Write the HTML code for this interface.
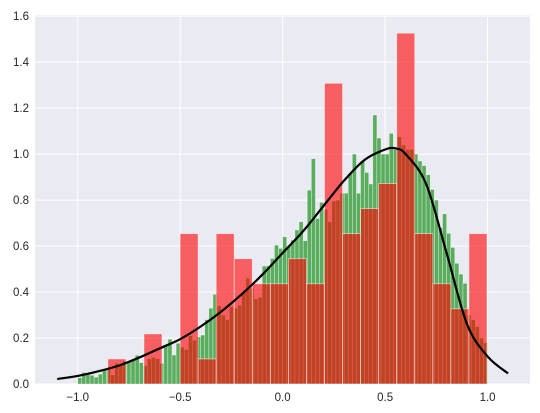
<!DOCTYPE html>
<html><head><meta charset="utf-8"><style>
html,body{margin:0;padding:0;background:#fff;}
svg{display:block;font-family:"Liberation Sans",Arial,sans-serif;}
</style></head><body>
<svg id="chart" width="540" height="413" viewBox="0 0 540 413">
<rect x="35" y="15" width="495" height="369" fill="#eaeaf2"/>
<g id="grid"></g><g id="green"></g><g id="red"></g><g id="curve"></g><g id="ticks"></g>
</svg>
<script>
const yTicks=[0,0.2,0.4,0.6,0.8,1.0,1.2,1.4,1.6];
const yTickLabels=["0.0","0.2","0.4","0.6","0.8","1.0","1.2","1.4","1.6"];
const xTicks=[-1.0,-0.5,0.0,0.5,1.0];
const xTickLabels=["\u22121.0","\u22120.5","0.0","0.5","1.0"];
const greenStart=-1.0, greenWidth=0.02;
const greenValues=[0.027,0.05,0.04,0.038,0.03,0.043,0.064,0.072,0.04,0.09,0.08,0.1,0.10,0.104,0.125,0.093,0.08,0.11,0.116,0.11,0.09,0.17,0.195,0.126,0.177,0.16,0.15,0.21,0.19,0.205,0.213,0.28,0.33,0.39,0.34,0.30,0.28,0.336,0.33,0.343,0.40,0.46,0.416,0.37,0.377,0.513,0.514,0.546,0.604,0.59,0.64,0.60,0.626,0.67,0.706,0.623,0.843,0.98,0.72,0.79,0.76,0.706,0.796,0.80,0.83,0.83,0.916,1.0,0.83,0.97,0.92,0.87,1.17,1.07,1.0,1.0,1.09,1.02,1.075,1.04,1.02,1.02,1.0,0.97,0.95,0.91,0.846,0.80,0.68,0.74,0.655,0.594,0.525,0.478,0.438,0.3,0.28,0.25,0.2,0.18];
const redStart=-0.853, redWidth=0.0881;
const redValues=[0.109,0,0.218,0,0.654,0.109,0.654,0.545,0.436,0.436,0.545,0.436,1.308,0.654,0.763,0.872,1.526,0.654,0.436,0.327,0.654];
const curveX=[-1.1,-1.0,-0.9,-0.8,-0.7,-0.6,-0.5,-0.4,-0.3,-0.2,-0.1,0.0,0.1,0.2,0.3,0.4,0.5,0.55,0.6,0.7,0.8,0.9,1.0,1.1];
const curveY=[0.022,0.035,0.055,0.08,0.115,0.155,0.195,0.25,0.315,0.39,0.475,0.57,0.665,0.775,0.885,0.975,1.02,1.025,1.0,0.87,0.57,0.26,0.12,0.046];

const NS="http://www.w3.org/2000/svg";
const X0=35,X1=530,XMIN=-1.2085,XMAX=1.207;
const Y0=384,YTOP=15,YMAX=1.605;
function sx(v){return X0+(v-XMIN)/(XMAX-XMIN)*(X1-X0);}
function sy(v){return Y0-v/YMAX*(Y0-YTOP);}
function mk(tag,attrs,parent){const e=document.createElementNS(NS,tag);for(const k in attrs)e.setAttribute(k,attrs[k]);parent.appendChild(e);return e;}
const grid=document.getElementById('grid'),ticks=document.getElementById('ticks');
yTicks.forEach((t,i)=>{
  const l=mk('line',{x1:X0,x2:X1,y1:sy(t),y2:sy(t),stroke:'#fff','stroke-width':1},grid);
  
  
  const tx=mk('text',{x:29,y:sy(t)+4,'text-anchor':'end','font-size':'11.5',fill:'#262626'},ticks);
  tx.textContent=yTickLabels[i];
  
  
});
xTicks.forEach((t,i)=>{
  const l=mk('line',{x1:sx(t),x2:sx(t),y1:YTOP,y2:Y0,stroke:'#fff','stroke-width':1},grid);
  
  
  const tx=mk('text',{x:sx(t),y:401,'text-anchor':'middle','font-size':'11.5',fill:'#262626'},ticks);
  tx.textContent=xTickLabels[i];
  
  
});
const gG=document.getElementById('green');
greenValues.forEach((v,i)=>{
  const a=sx(greenStart+i*greenWidth),b=sx(greenStart+(i+1)*greenWidth);
  const r=mk('rect',{x:a,y:sy(v),width:b-a,height:Y0-sy(v),fill:'#5aac5e',stroke:'#fff','stroke-width':0.5,'stroke-opacity':0.7},gG);
  
  
});
const gR=document.getElementById('red');
redValues.forEach((v,i)=>{
  if(v<=0)return;
  const a=sx(redStart+i*redWidth),b=sx(redStart+(i+1)*redWidth);
  const r=mk('rect',{x:a,y:sy(v),width:b-a,height:Y0-sy(v),fill:'#ff0000','fill-opacity':0.6,stroke:'#fff','stroke-width':0.8,'stroke-opacity':0.6},gR);
  
  
});
const pts=curveX.map((x,i)=>[sx(x),sy(curveY[i])]);
let d='M'+pts[0][0]+','+pts[0][1];
for(let i=0;i<pts.length-1;i++){
  const p0=pts[i-1]||pts[i],p1=pts[i],p2=pts[i+1],p3=pts[i+2]||p2;
  const c1=[p1[0]+(p2[0]-p0[0])/6,p1[1]+(p2[1]-p0[1])/6];
  const c2=[p2[0]-(p3[0]-p1[0])/6,p2[1]-(p3[1]-p1[1])/6];
  d+=' C'+c1+' '+c2+' '+p2;
}
const c=mk('path',{d:d,fill:'none',stroke:'#000','stroke-width':2.2},document.getElementById('curve'));


</script>
</body></html>
